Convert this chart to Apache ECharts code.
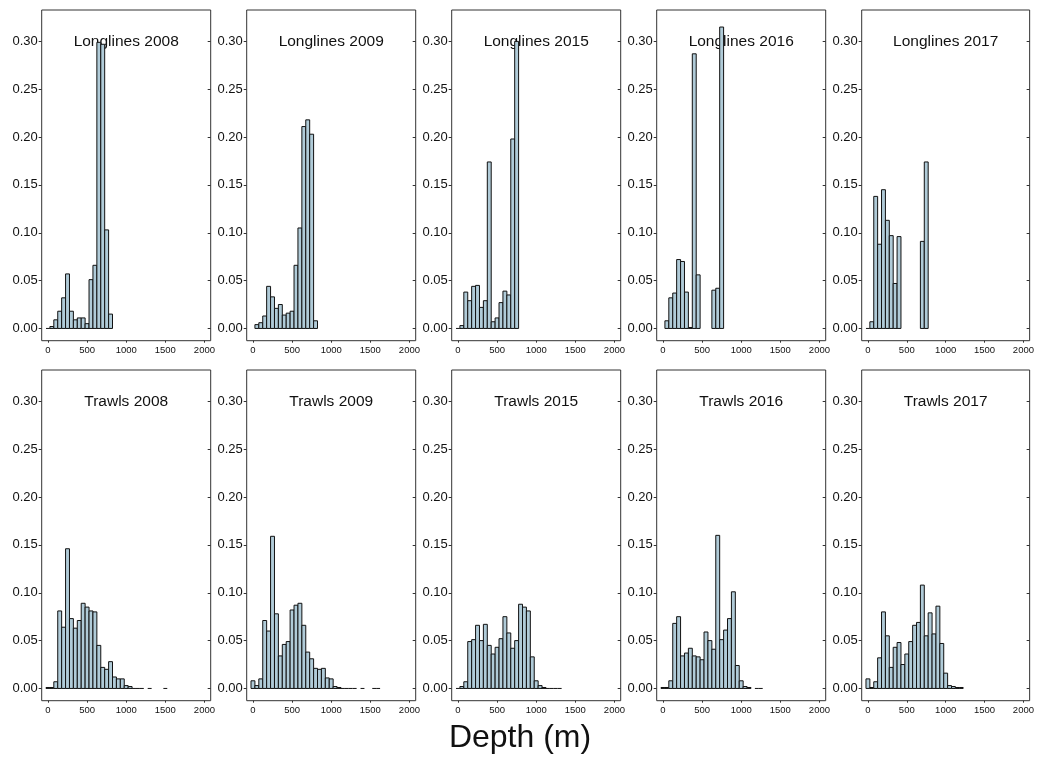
<!DOCTYPE html>
<html>
<head>
<meta charset="utf-8">
<script src="https://cdn.jsdelivr.net/npm/echarts@6/dist/echarts.min.js"></script>
<style>
html,body{margin:0;padding:0;background:#fff;}
#chart{width:1037px;height:757px;}
</style>
</head>
<body>
<div id="chart"></div>
<script>
// Histogram bins: 50 m wide, bin k centred on k*50 m
const binWidth = 50;
const panelTitles = ["Longlines 2008","Longlines 2009","Longlines 2015","Longlines 2016","Longlines 2017",
                     "Trawls 2008","Trawls 2009","Trawls 2015","Trawls 2016","Trawls 2017"];
const xTicks = [0, 500, 1000, 1500, 2000];
const yTicks = [0, 0.05, 0.10, 0.15, 0.20, 0.25, 0.30];
const xTitle = "Depth (m)";

const longlines2008 = [0, 0.002, 0.009, 0.018, 0.032, 0.057, 0.018, 0.009, 0.011, 0.011, 0.005, 0.051, 0.066, 0.299, 0.297, 0.103, 0.015];
const longlines2009 = [null, 0.004, 0.006, 0.013, 0.044, 0.033, 0.021, 0.025, 0.014, 0.016, 0.018, 0.066, 0.105, 0.211, 0.218, 0.203, 0.008];
const longlines2015 = [0, 0.003, 0.038, 0.029, 0.044, 0.045, 0.022, 0.029, 0.174, 0.007, 0.011, 0.027, 0.039, 0.035, 0.198, 0.300];
const longlines2016 = [null, 0.008, 0.032, 0.037, 0.072, 0.070, 0.038, 0.001, 0.287, 0.056, null, null, null, 0.040, 0.042, 0.315];
const longlines2017 = [0, 0.007, 0.138, 0.088, 0.145, 0.113, 0.097, 0.047, 0.096, null, null, null, null, null, 0.091, 0.174];
const trawls2008 = [0.001, 0.001, 0.007, 0.081, 0.064, 0.146, 0.073, 0.063, 0.071, 0.089, 0.085, 0.081, 0.080, 0.045, 0.022, 0.020, 0.028, 0.012, 0.010, 0.010, 0.003, 0.002, 0, 0, 0, null, 0, null, null, null, 0];
const trawls2009 = [0.008, 0.003, 0.010, 0.071, 0.060, 0.159, 0.078, 0.034, 0.046, 0.049, 0.082, 0.087, 0.089, 0.066, 0.038, 0.031, 0.021, 0.020, 0.021, 0.011, 0.010, 0.002, 0.001, 0, 0, 0, 0, null, 0, null, null, 0, 0];
const trawls2015 = [0, 0.002, 0.007, 0.049, 0.051, 0.066, 0.050, 0.067, 0.045, 0.036, 0.043, 0.052, 0.075, 0.058, 0.042, 0.050, 0.088, 0.085, 0.081, 0.033, 0.008, 0.003, 0.001, 0, 0, 0, 0];
const trawls2016 = [0.001, 0.001, 0.008, 0.068, 0.075, 0.034, 0.037, 0.042, 0.034, 0.033, 0.030, 0.059, 0.050, 0.041, 0.160, 0.051, 0.061, 0.073, 0.101, 0.024, 0.008, 0.002, 0.001, null, 0, 0];
const trawls2017 = [0.010, 0.001, 0.007, 0.032, 0.080, 0.055, 0.022, 0.043, 0.048, 0.025, 0.036, 0.049, 0.066, 0.069, 0.108, 0.055, 0.079, 0.057, 0.086, 0.047, 0.016, 0.003, 0.002, 0.001, 0.001];

const panelData = [longlines2008, longlines2009, longlines2015, longlines2016, longlines2017,
                   trawls2008, trawls2009, trawls2015, trawls2016, trawls2017];

const FONT = "'Liberation Sans', Arial, Helvetica, sans-serif";
const xMin = -80, xMax = 2080;
const yMin = -0.0128, yMax = 0.3328;

const chart = echarts.init(document.getElementById('chart'), null, {renderer: 'canvas'});

const grids = [], xAxes = [], yAxes = [], series = [];
for (let i = 0; i < 10; i++) {
  const col = i % 5, row = Math.floor(i / 5);
  grids.push({
    left: 41.7 + 205 * col, top: row === 0 ? 10 : 370, width: 169, height: 330.7,
    show: true, borderColor: '#333', borderWidth: 1, backgroundColor: 'transparent'
  });
  xAxes.push({
    type: 'value', gridIndex: i, min: xMin, max: xMax, position: 'bottom',
    axisLine: {show: false, onZero: false}, splitLine: {show: false},
    axisTick: {show: true, length: 2, lineStyle: {color: '#333'}, customValues: xTicks},
    axisLabel: {show: true, customValues: xTicks, fontSize: 9.5, color: '#111', fontFamily: FONT, margin: 5,
      formatter: v => String(v)}
  });
  yAxes.push({
    type: 'value', gridIndex: i, min: yMin, max: yMax, position: 'left',
    axisLine: {show: false, onZero: false}, splitLine: {show: false},
    axisTick: {show: true, length: 3, lineStyle: {color: '#333'}, customValues: yTicks},
    axisLabel: {show: true, customValues: yTicks, fontSize: 13, color: '#111', fontFamily: FONT, margin: 4,
      formatter: v => v.toFixed(2)}
  });
  yAxes.push({
    type: 'value', gridIndex: i, min: yMin, max: yMax, position: 'right',
    axisLine: {show: false, onZero: false}, splitLine: {show: false},
    axisTick: {show: true, inside: true, length: 3, lineStyle: {color: '#333'}, customValues: yTicks},
    axisLabel: {show: false}
  });
  const data = [];
  panelData[i].forEach((v, k) => { if (v !== null) data.push([k, v]); });
  series.push({
    type: 'custom', xAxisIndex: i, yAxisIndex: 2 * i, data: data, silent: true,
    renderItem: function (params, api) {
      const k = api.value(0), h = api.value(1);
      const a = api.coord([k * binWidth - binWidth / 2, h]);
      const b = api.coord([k * binWidth + binWidth / 2, 0]);
      if (h === 0) {
        return {type: 'line', shape: {x1: a[0], y1: b[1], x2: b[0], y2: b[1]},
          style: {stroke: '#111', lineWidth: 1}};
      }
      return {type: 'rect', shape: {x: a[0], y: a[1], width: b[0] - a[0], height: b[1] - a[1]},
        style: {fill: '#b0cbd8', stroke: '#111', lineWidth: 1}};
    }
  });
}

chart.setOption({
  animation: false,
  backgroundColor: '#fff',
  grid: grids, xAxis: xAxes, yAxis: yAxes, series: series
});

const graphics = [];
for (let i = 0; i < 10; i++) {
  const p = chart.convertToPixel({gridIndex: i}, [1000, 0.30]);
  graphics.push({type: 'text', x: p[0], y: p[1],
    style: {text: panelTitles[i], fill: '#111', font: '15.5px ' + FONT, textAlign: 'center', textVerticalAlign: 'middle'}});
}
graphics.push({type: 'text', x: 520, y: 738,
  style: {text: xTitle, fill: '#111', font: '32px ' + FONT, textAlign: 'center', textVerticalAlign: 'middle'}});
chart.setOption({graphic: graphics});
</script>
</body>
</html>
